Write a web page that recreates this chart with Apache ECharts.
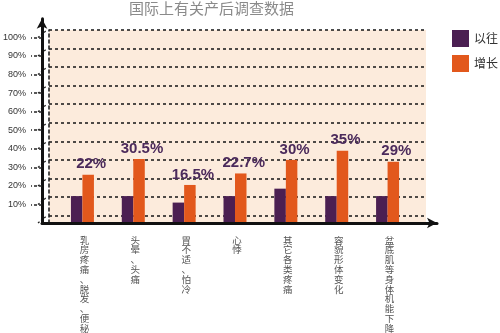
<!DOCTYPE html>
<html>
<head>
<meta charset="utf-8">
<script src="https://cdn.jsdelivr.net/npm/echarts@6/dist/echarts.min.js"></script>
<style>
  html, body { margin: 0; padding: 0; background: #fff; }
  #chart { width: 500px; height: 333px; }
</style>
</head>
<body>
<div id="chart"></div>
<script>
// Postpartum survey: share of women reporting each symptom, before vs. increase
const categories = ['乳房疼痛、脱发、便秘', '头晕、头痛', '胃不适、怕冷', '心悸', '其它各类疼痛', '容貌形体变化', '盆底肌等身体机能下降'];
const pastValues = [10.5, 10.5, 7, 10.5, 14.5, 10.5, 10.5];
const growthValues = [22, 30.5, 16.5, 22.7, 30, 35, 29];
const tickValues = [10, 20, 30, 40, 50, 60, 70, 80, 90, 100];
const seriesNames = ['以往', '增长'];

// Pseudo-3D look: the back wall sits up and to the right of the front axes
const DEPTH_X = 13;
const DEPTH_Y = 7.5;
const FLOOR = -4;           // front floor expressed on the back-wall scale

const purple = '#4b1f52';
const orange = '#e2581c';
const wall = '#fcebdc';
const cjk = '"Noto Sans CJK SC", "Noto Sans", sans-serif';
const latin = '"Liberation Sans", Arial, sans-serif';

const chart = echarts.init(document.getElementById('chart'), null, { renderer: 'canvas' });

chart.setOption({
  animation: false,
  title: {
    text: '国际上有关产后调查数据',
    left: 124, top: -4,
    textStyle: { fontFamily: cjk, fontSize: 15, fontWeight: 'normal', color: '#8a8a8a' }
  },
  legend: {
    data: seriesNames,
    orient: 'vertical',
    left: 447, top: 25,
    itemWidth: 17, itemHeight: 17, itemGap: 8,
    icon: 'rect',
    textStyle: { fontFamily: cjk, fontSize: 12, color: '#333' }
  },
  grid: [
    // back wall
    { left: 49, right: 74, top: 30, bottom: 110, show: true, backgroundColor: wall, borderWidth: 0 },
    // front axes
    { left: 36, right: 63, top: 18.8, bottom: 110 },
    // bars
    { left: 57, right: 87, top: 30, bottom: 110 }
  ],
  xAxis: [
    { gridIndex: 0, type: 'value', min: 0, max: 1, show: false },
    {
      gridIndex: 1, type: 'value', min: 0, max: 1,
      axisLine: { show: true, symbol: ['none', 'arrow'], symbolSize: [8, 10], lineStyle: { color: '#111', width: 3 } },
      axisTick: { show: false }, axisLabel: { show: false }, splitLine: { show: false }, z: 10
    },
    {
      gridIndex: 2, type: 'category', data: categories,
      axisLine: { show: false }, axisTick: { show: false }, splitLine: { show: false },
      axisLabel: {
        margin: 12, interval: 0,
        fontFamily: cjk, fontSize: 9.5, lineHeight: 9.8, color: '#555',
        verticalAlign: 'top', padding: [0, 0, 0, 4],
        formatter: (v) => v.split('').join('\n')
      }
    }
  ],
  yAxis: [
    {
      gridIndex: 0, type: 'value', min: FLOOR, max: 100,
      splitNumber: 10, minInterval: 10, maxInterval: 10,
      axisLabel: { show: false }, axisTick: { show: false },
      axisLine: { show: true, lineStyle: { color: '#222', width: 1.6, type: [3, 3] } },
      splitLine: { show: true, lineStyle: { color: '#222', width: 1.6, type: [3, 3] } }
    },
    {
      gridIndex: 1, type: 'value', min: 0, max: 110, interval: 10,
      axisLine: { show: true, symbol: ['none', 'arrow'], symbolSize: [8, 10], lineStyle: { color: '#111', width: 3 } },
      axisTick: { show: true, customValues: tickValues, length: 11, lineStyle: { color: '#222', width: 1.5, type: [3, 2] } },
      axisLabel: {
        customValues: tickValues,
        margin: 16, fontFamily: latin, fontSize: 9, color: '#333',
        formatter: (v) => (v > 0 && v <= 100 ? v + '%' : '')
      },
      splitLine: { show: false }, z: 10
    },
    { gridIndex: 2, type: 'value', min: FLOOR, max: 100, startValue: FLOOR, show: false }
  ],
  series: [
    {
      // little perspective connectors between the front ticks and the wall lines
      type: 'custom',
      xAxisIndex: 0, yAxisIndex: 0,
      data: tickValues.concat([0]).map((v) => [0, v]),
      silent: true,
      renderItem: (params, api) => {
        const p = api.coord([api.value(0), api.value(1)]);
        return {
          type: 'line',
          shape: { x1: p[0] - DEPTH_X + 2, y1: p[1] + DEPTH_Y, x2: p[0] - 2, y2: p[1] },
          style: { stroke: '#222', lineWidth: 1.3, lineDash: [2, 2] }
        };
      }
    },
    {
      name: seriesNames[0], type: 'bar',
      xAxisIndex: 2, yAxisIndex: 2,
      data: pastValues,
      barWidth: 11.5, barGap: '0%',
      itemStyle: { color: purple }
    },
    {
      name: seriesNames[1], type: 'bar',
      xAxisIndex: 2, yAxisIndex: 2,
      data: growthValues,
      barWidth: 11.5, barGap: '0%',
      itemStyle: { color: orange },
      label: {
        show: true, position: 'top', distance: 3, offset: [3, 0],
        formatter: '{c}%',
        fontFamily: latin, fontSize: 15, fontWeight: 'bold', color: '#4b2a5b'
      }
    }
  ]
});
</script>
</body>
</html>
